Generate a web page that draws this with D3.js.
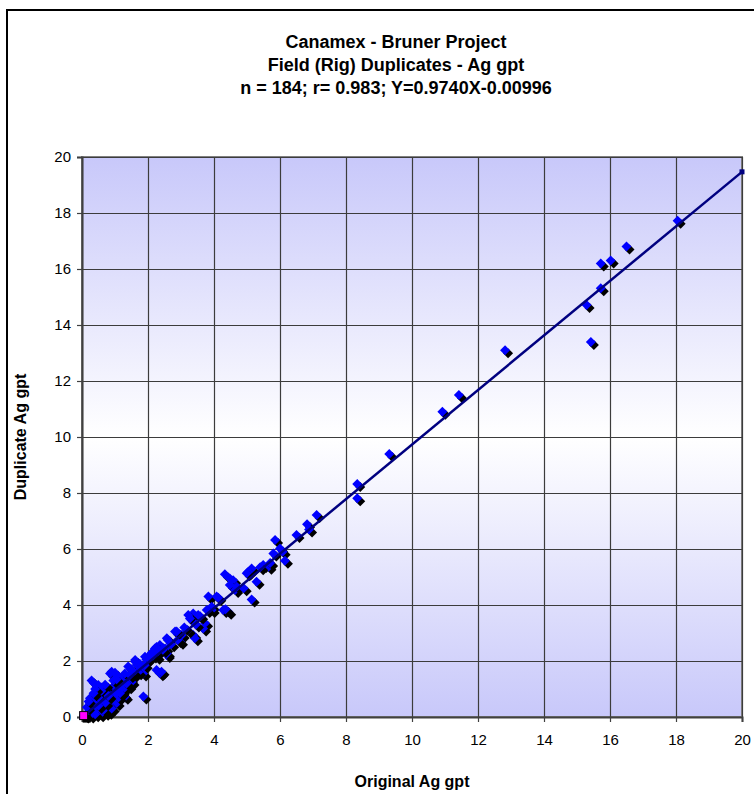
<!DOCTYPE html>
<html lang="en">
<head>
    <meta charset="UTF-8">
    <title>Canamex - Bruner Project - Field (Rig) Duplicates</title>
    <script src="https://d3js.org/d3.v7.min.js"></script>
    <style>
        body {
            margin: 0;
            padding: 0;
            background: #fff;
            overflow: hidden;
        }
        svg {
            display: block;
            font-family: Arial, "Liberation Sans", sans-serif;
        }
        .tick text {
            font-size: 15px;
            fill: #000;
        }
        .grid line {
            stroke: #3c3c3c;
            stroke-width: 1.2;
        }
        .grid path {
            stroke-width: 0;
        }
    </style>
</head>
<body>
    <div id="chart"></div>

    <script>
        // Textos del grafico
        const titleLines = [
            "Canamex - Bruner Project",
            "Field (Rig) Duplicates - Ag gpt",
            "n = 184; r= 0.983; Y=0.9740X-0.00996"
        ];
        const xLabel = "Original Ag gpt";
        const yLabel = "Duplicate Ag gpt";

        // Ticks
        const xTicks = [0, 2, 4, 6, 8, 10, 12, 14, 16, 18, 20];
        const yTicks = [0, 2, 4, 6, 8, 10, 12, 14, 16, 18, 20];

        // Pares original / duplicado (184 muestras)
        const originalAg = [
            18.05, 16.5, 16.02, 15.72, 15.72, 15.29, 15.42, 12.82, 11.42, 10.92,
            9.31, 8.34, 8.34, 7.11, 6.82, 6.88, 6.5, 5.85, 6.0, 6.08,
            5.8, 6.15, 5.49, 5.65, 5.7, 5.14, 5.04, 5.29, 5.14, 4.99,
            4.33, 4.48, 4.58, 4.48, 4.64, 4.69, 3.83, 4.08, 4.13, 3.93,
            3.93, 4.28, 4.43, 4.35, 3.78, 4.9, 5.4, 3.73, 3.67, 3.37,
            3.22, 3.52, 3.58, 3.32, 3.27, 3.45, 3.37, 3.42, 3.2, 2.82,
            3.02, 2.97, 2.9, 2.87, 2.57, 2.6, 3.1, 2.7, 2.36, 2.52,
            2.57, 2.57, 2.21, 2.26, 2.26, 2.06, 2.12, 1.91, 1.95, 2.26,
            2.36, 2.41, 1.86, 1.61, 1.61, 1.66, 1.4, 1.75, 1.5, 2.0,
            2.15, 1.8, 1.85, 2.3, 1.7, 1.55, 2.45, 1.9, 0.9, 0.85,
            1.0, 1.1, 0.29, 0.35, 0.49, 0.6, 1.25, 1.3, 0.24, 0.24,
            0.8, 0.7, 0.6, 0.5, 1.35, 1.3, 1.2, 1.45, 1.15, 1.05,
            1.2, 1.0, 0.95, 0.9, 1.1, 1.4, 1.5, 1.55, 1.3, 1.45,
            0.8, 0.75, 0.7, 0.85, 0.95, 1.0, 0.9, 0.8, 0.7, 0.65,
            0.6, 0.55, 0.45, 0.4, 0.35, 0.45, 0.55, 0.65, 0.75, 0.85,
            0.75, 0.6, 0.5, 0.4, 0.3, 0.35, 0.45, 0.55, 0.65, 0.3,
            0.2, 0.15, 0.25, 0.4, 0.9, 1.05, 1.1, 1.2, 1.25, 0.5,
            0.6, 0.7, 0.4, 0.35, 0.95, 1.05, 0.15, 0.2, 0.7, 0.8,
            1.15, 0.5, 1.35, 0.1
        ];
        const duplicateAg = [
            17.72, 16.8, 16.3, 16.2, 15.31, 14.71, 13.39, 13.1, 11.5, 10.9,
            9.39, 8.32, 7.81, 7.21, 6.88, 6.7, 6.5, 6.32, 6.02, 5.9,
            5.84, 5.58, 5.43, 5.37, 5.5, 5.3, 5.19, 4.83, 4.2, 5.13,
            5.1, 4.95, 4.88, 4.71, 4.54, 4.65, 4.3, 4.3, 4.26, 3.94,
            3.82, 3.82, 3.76, 3.85, 3.82, 4.6, 5.35, 3.35, 3.16, 3.7,
            3.64, 3.64, 3.6, 3.46, 3.52, 3.3, 2.93, 2.81, 3.1, 3.05,
            2.93, 2.69, 2.75, 3.05, 2.81, 2.75, 3.2, 2.6, 2.57, 2.45,
            2.21, 2.27, 2.45, 2.5, 2.15, 2.21, 2.3, 2.15, 2.05, 1.68,
            1.56, 1.62, 0.73, 2.04, 1.98, 1.86, 1.8, 1.9, 1.7, 2.1,
            2.2, 1.75, 1.55, 2.35, 1.6, 1.5, 2.4, 1.85, 1.62, 1.55,
            1.58, 1.45, 1.3, 1.22, 1.14, 1.05, 0.79, 0.72, 0.67, 0.49,
            0.19, 0.15, 0.22, 0.3, 1.4, 1.25, 1.3, 1.35, 1.15, 1.2,
            1.05, 1.0, 1.1, 0.95, 0.95, 1.1, 1.25, 1.6, 1.55, 1.5,
            0.9, 1.0, 0.85, 0.75, 0.8, 0.65, 0.55, 0.6, 0.7, 0.6,
            0.75, 0.9, 0.8, 0.65, 0.55, 0.45, 0.5, 0.4, 0.45, 0.35,
            0.3, 0.35, 0.55, 0.35, 0.4, 0.25, 0.2, 0.1, 0.25, 0.15,
            0.2, 0.1, 0.05, 0.1, 0.3, 0.5, 0.7, 0.9, 1.0, 0.7,
            0.95, 1.15, 1.0, 0.85, 1.3, 1.35, 0.35, 0.55, 0.5, 0.75,
            0.85, 0.4, 1.2, 0.05
        ];

        // Punto de origen (serie magenta)
        const originX = [0.05];
        const originY = [0.05];

        // Recta de regresion
        const fitSlope = 0.9740;
        const fitIntercept = -0.00996;
        const fitXs = [0, 20];

        // Dimensiones
        const W = 754, H = 794;
        const plot = {left: 82, top: 157, width: 660, height: 560};
        const titleX = 396;

        const svg = d3.select("#chart")
            .append("svg")
            .attr("width", W)
            .attr("height", H);

        // Gradiente del area de trazado
        const defs = svg.append("defs");
        const grad = defs.append("linearGradient")
            .attr("id", "plotBg")
            .attr("x1", 0).attr("y1", 0)
            .attr("x2", 0).attr("y2", 1);
        grad.append("stop").attr("offset", "0%").attr("stop-color", "#c8c8fa");
        grad.append("stop").attr("offset", "50%").attr("stop-color", "#ffffff");
        grad.append("stop").attr("offset", "100%").attr("stop-color", "#c8c8fa");

        // Marco del grafico (sale de la ventana por la derecha y abajo)
        svg.append("rect")
            .attr("x", 7).attr("y", 10)
            .attr("width", W + 20).attr("height", H + 20)
            .attr("fill", "#fff")
            .attr("stroke", "#000")
            .attr("stroke-width", 2);

        const g = svg.append("g")
            .attr("transform", `translate(${plot.left},${plot.top})`);

        // Escalas
        const x = d3.scaleLinear().domain([0, 20]).range([0, plot.width]);
        const y = d3.scaleLinear().domain([0, 20]).range([plot.height, 0]);

        g.append("rect")
            .attr("width", plot.width)
            .attr("height", plot.height)
            .attr("fill", "url(#plotBg)")
            .attr("stroke", "#808080")
            .attr("stroke-width", 2);

        // Rejilla
        g.append("g")
            .attr("class", "grid")
            .attr("transform", `translate(0,${plot.height})`)
            .call(d3.axisBottom(x).tickValues(xTicks).tickSize(-plot.height).tickFormat(""));
        g.append("g")
            .attr("class", "grid")
            .call(d3.axisLeft(y).tickValues(yTicks).tickSize(-plot.width).tickFormat(""));

        // Ejes
        const xAxisG = g.append("g")
            .attr("transform", `translate(0,${plot.height})`)
            .call(d3.axisBottom(x).tickValues(xTicks).tickSize(5).tickPadding(12).tickFormat(d3.format("d")));
        const yAxisG = g.append("g")
            .call(d3.axisLeft(y).tickValues(yTicks).tickSize(5).tickPadding(6).tickFormat(d3.format("d")));
        [xAxisG, yAxisG].forEach(a => {
            a.select(".domain").attr("stroke", "#404040").attr("stroke-width", 2);
            a.selectAll(".tick line").attr("stroke", "#404040").attr("stroke-width", 1.2);
            a.attr("font-family", null).attr("font-size", null);
        });

        // Puntos: sombra negra desplazada + rombo azul
        const diamond = "M0,-5L5,0L0,5L-5,0Z";
        const pts = originalAg.map((v, i) => ({x: v, y: duplicateAg[i]}));
        const mk = g.append("g").selectAll("g")
            .data(pts)
            .join("g")
            .attr("transform", d => `translate(${x(d.x)},${y(d.y)})`);
        mk.append("path")
            .attr("d", diamond)
            .attr("transform", "translate(3,3)")
            .attr("fill", "#000");
        mk.append("path")
            .attr("d", diamond)
            .attr("fill", "#0000ff");

        // Recta de ajuste
        const fitPts = fitXs.map(v => ({x: v, y: fitSlope * v + fitIntercept}));
        g.append("path")
            .datum(fitPts)
            .attr("d", d3.line().x(d => x(d.x)).y(d => y(d.y)))
            .attr("fill", "none")
            .attr("stroke", "#000080")
            .attr("stroke-width", 2.5);
        g.append("g").selectAll("rect")
            .data(fitPts)
            .join("rect")
            .attr("x", d => x(d.x) - 2.5)
            .attr("y", d => y(d.y) - 2.5)
            .attr("width", 5).attr("height", 5)
            .attr("fill", "#000080");

        // Origen magenta
        const org = g.append("g").selectAll("g")
            .data(originX.map((v, i) => ({x: v, y: originY[i]})))
            .join("g")
            .attr("transform", d => `translate(${x(d.x)},${y(d.y)})`);
        org.append("rect")
            .attr("x", -1).attr("y", -1).attr("width", 8).attr("height", 8)
            .attr("fill", "#000");
        org.append("rect")
            .attr("x", -4).attr("y", -4).attr("width", 8).attr("height", 8)
            .attr("fill", "#ff00ff")
            .attr("stroke", "#000")
            .attr("stroke-width", 1);

        // Titulo
        svg.append("text")
            .attr("x", titleX)
            .attr("y", 48)
            .attr("text-anchor", "middle")
            .attr("font-size", "18px")
            .attr("font-weight", "bold")
            .selectAll("tspan")
            .data(titleLines)
            .join("tspan")
            .attr("x", titleX)
            .attr("dy", (d, i) => i === 0 ? 0 : 23)
            .text(d => d);

        // Titulos de ejes
        svg.append("text")
            .attr("x", plot.left + plot.width / 2)
            .attr("y", 787)
            .attr("text-anchor", "middle")
            .attr("font-size", "16px")
            .attr("font-weight", "bold")
            .text(xLabel);
        svg.append("text")
            .attr("transform", `translate(26,${plot.top + plot.height / 2}) rotate(-90)`)
            .attr("text-anchor", "middle")
            .attr("font-size", "16px")
            .attr("font-weight", "bold")
            .text(yLabel);
    </script>
</body>
</html>
